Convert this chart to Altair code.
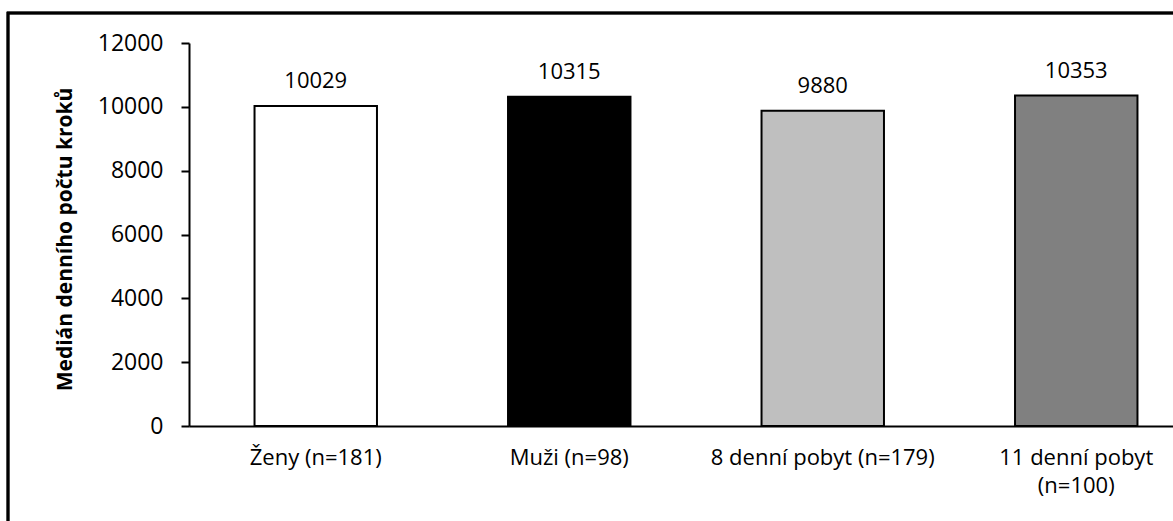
import altair as alt
import pandas as pd

categories = ["Ženy (n=181)", "Muži (n=98)", "8 denní pobyt (n=179)", "11 denní pobyt (n=100)"]
values = [10029, 10315, 9880, 10353]
colors = ["#FFFFFF", "#000000", "#BFBFBF", "#808080"]

df = pd.DataFrame({"cat": categories, "val": values, "col": colors})

FONT = "Open Sans"

x = alt.X(
    "cat:N",
    sort=categories,
    scale=alt.Scale(paddingInner=0.517, paddingOuter=0.2585),
    axis=alt.Axis(
        title=None,
        labelAngle=0,
        ticks=False,
        domainColor="black",
        domainWidth=2,
        labelColor="black",
        labelFont=FONT,
        labelFontSize=22,
        labelPadding=21,
        labelLineHeight=28,
        labelLimit=400,
        labelExpr="datum.value == '11 denní pobyt (n=100)' ? ['11 denní pobyt', '(n=100)'] : datum.value",
    ),
)

y = alt.Y(
    "val:Q",
    scale=alt.Scale(domain=[0, 12000], nice=False),
    axis=alt.Axis(
        title="Medián denního počtu kroků",
        values=[0, 2000, 4000, 6000, 8000, 10000, 12000],
        format="d",
        grid=False,
        tickSize=8,
        tickColor="black",
        tickWidth=2,
        domainColor="black",
        domainWidth=2,
        labelColor="black",
        labelFont=FONT,
        labelFontSize=23,
        labelPadding=18,
        titleFont=FONT,
        titleFontSize=21,
        titleFontWeight="bold",
        titleColor="black",
        titlePadding=22,
        titleY=196,
    ),
)

bars = alt.Chart(df).mark_bar(stroke="black", strokeWidth=2).encode(
    x=x,
    y=y,
    fill=alt.Fill("col:N", scale=None),
)

labels = alt.Chart(df).mark_text(
    font=FONT, fontSize=22, color="black", baseline="alphabetic", dy=-18
).encode(
    x=alt.X("cat:N", sort=categories),
    y=alt.Y("val:Q"),
    text=alt.Text("val:Q", format="d"),
)

border = alt.Chart(df).mark_rect(
    fillOpacity=0, stroke="black", strokeWidth=2.5
).encode(
    x=alt.value(-181),
    x2=alt.value(1300),
    y=alt.value(-30),
    y2=alt.value(700),
)

chart = alt.layer(border, bars, labels).properties(
    width=1014,
    height=383,
    autosize=alt.AutoSizeParams(type="none"),
    padding={"left": 189, "top": 43, "right": -30, "bottom": 95},
    background="white",
).configure_view(stroke=None)

chart.save("out.html", embed_options={"renderer": "svg", "actions": False})
